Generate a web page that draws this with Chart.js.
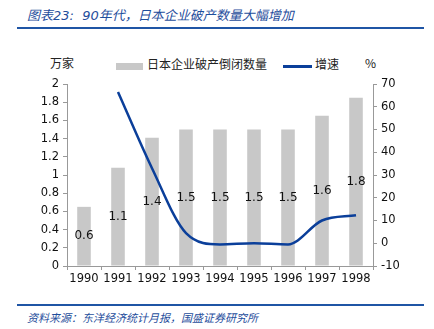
<!DOCTYPE html>
<html>
<head>
<meta charset="utf-8">
<script src="https://cdn.jsdelivr.net/npm/chart.js@4"></script>
<style>
  body { margin: 0; width: 434px; height: 329px; background: #fff; position: relative; overflow: hidden;
         font-family: "DejaVu Sans", "Noto Sans CJK SC", sans-serif; }
  .title { position: absolute; left: 27px; top: 5px; font-size: 13px; color: #1f4e9c; font-style: italic;
           font-family: "DejaVu Sans", "Noto Sans CJK SC", sans-serif; }
  .rule { position: absolute; left: 17px; width: 407px; height: 2px; background: #1f55a5; }
  .source { position: absolute; left: 27px; top: 309px; font-size: 11px; color: #1f4e9c; font-style: italic;
            font-family: "Noto Sans CJK SC", sans-serif; }
  .unit { position: absolute; top: 54px; font-size: 12px; color: #222; font-family: "Noto Sans CJK SC", sans-serif; }
  .legend { position: absolute; top: 55px; font-size: 12px; color: #222; font-family: "Noto Sans CJK SC", sans-serif; }
  .box { position: absolute; width: 27px; height: 7px; background: #c8c8c8; }
  .ln { position: absolute; width: 29px; height: 3px; background: #0b3f9a; }
  #wrap { position: absolute; left: 0; top: 40px; width: 434px; height: 260px; }
</style>
</head>
<body>
<div class="title">图表23:&nbsp; 90年代，日本企业破产数量大幅增加</div>
<div class="rule" style="top:27px"></div>
<div class="unit" style="left:50px">万家</div>
<div class="unit" style="left:365px">%</div>
<div class="box" style="left:116px; top:63px"></div>
<div class="legend" style="left:147px">日本企业破产倒闭数量</div>
<div class="ln" style="left:283px; top:65px"></div>
<div class="legend" style="left:315px">增速</div>
<div id="wrap"><canvas id="chart"></canvas></div>
<div class="rule" style="top:304px"></div>
<div class="source">资料来源：东洋经济统计月报，国盛证券研究所</div>

<script>
const years = ['1990', '1991', '1992', '1993', '1994', '1995', '1996', '1997', '1998']
const bankruptcies = [0.65, 1.08, 1.41, 1.5, 1.5, 1.5, 1.5, 1.65, 1.85]
const barLabels = ['0.6', '1.1', '1.4', '1.5', '1.5', '1.5', '1.5', '1.6', '1.8']
const growth = [null, 66.5, 33, 4.5, -0.5, 0, -0.5, 10, 12.3]

const tickFont = { family: 'DejaVu Sans', size: 11.5 }

// writes the value in the middle of each bar
const barValues = {
  id: 'barValues',
  afterDatasetsDraw(chart) {
    const ctx = chart.ctx
    const meta = chart.getDatasetMeta(1)
    ctx.save()
    ctx.font = '12px "DejaVu Sans"'
    ctx.fillStyle = '#111'
    ctx.textAlign = 'center'
    ctx.textBaseline = 'middle'
    meta.data.forEach((bar, i) => {
      ctx.fillText(barLabels[i], bar.x, (bar.y + bar.base) / 2)
    })
    ctx.restore()
  }
}

new Chart(document.getElementById('chart'), {
  data: {
    labels: years,
    datasets: [{
      type: 'line',
      label: '增速',
      data: growth,
      yAxisID: 'y1',
      borderColor: '#0b3f9a',
      borderWidth: 2.5,
      pointRadius: 0,
      cubicInterpolationMode: 'monotone',
      order: 0
    }, {
      type: 'bar',
      label: '日本企业破产倒闭数量',
      data: bankruptcies,
      yAxisID: 'y',
      backgroundColor: '#c8c8c8',
      barPercentage: 0.4,
      categoryPercentage: 1,
      order: 1
    }]
  },
  options: {
    responsive: true,
    maintainAspectRatio: false,
    animation: false,
    layout: { padding: { top: 44, left: 0, right: 0, bottom: 0 } },
    plugins: { legend: { display: false }, tooltip: { enabled: false } },
    scales: {
      x: {
        offset: true,
        grid: { display: true, drawOnChartArea: false, offset: true, tickLength: 4, color: '#999' },
        border: { color: '#999' },
        ticks: { color: '#111', font: tickFont, padding: 2, maxRotation: 0 },
        afterFit(s) { s.height = 34 }
      },
      y: {
        position: 'left',
        min: 0, max: 2,
        grid: { drawOnChartArea: false, tickLength: 4, color: '#999' },
        border: { color: '#999' },
        ticks: { stepSize: 0.2, color: '#111', font: tickFont, padding: 4,
                 callback: v => String(Math.round(v * 10) / 10) },
        afterFit(s) { s.width = 67 }
      },
      y1: {
        position: 'right',
        min: -10, max: 70,
        grid: { drawOnChartArea: false, tickLength: 4, color: '#999' },
        border: { color: '#999' },
        ticks: { stepSize: 10, color: '#111', font: tickFont, padding: 4 },
        afterFit(s) { s.width = 61 }
      }
    }
  },
  plugins: [barValues]
})
</script>
</body>
</html>
